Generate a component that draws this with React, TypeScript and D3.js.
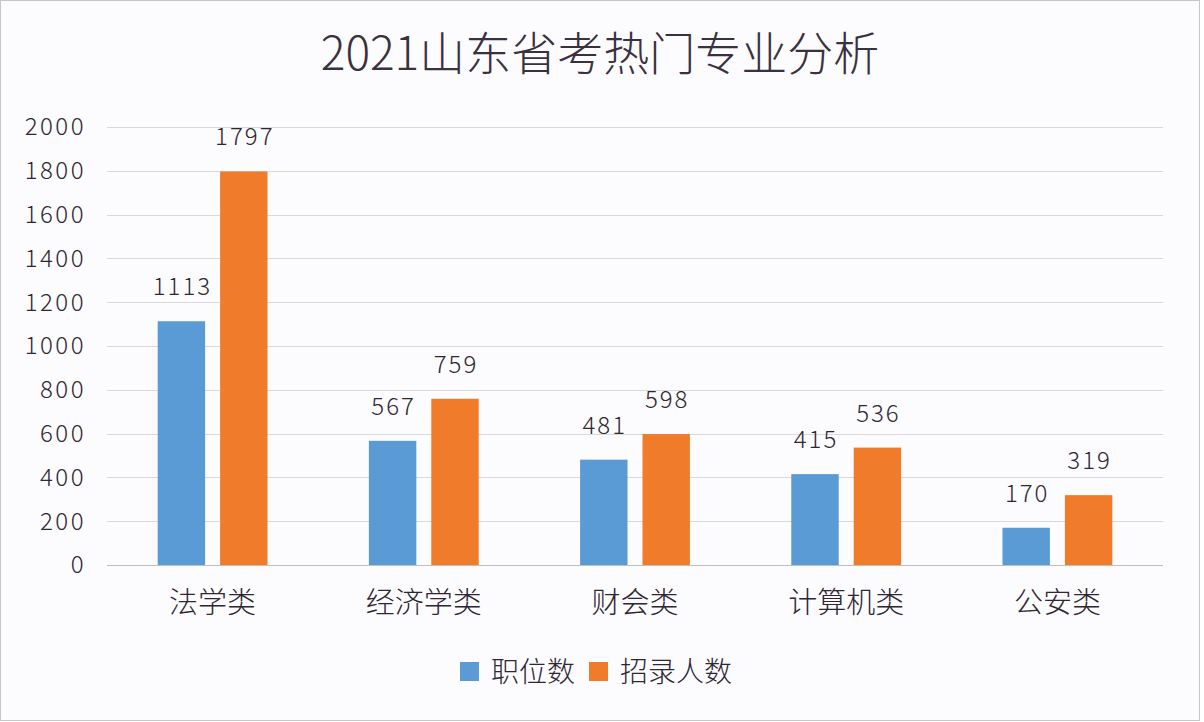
import { useEffect, useRef } from "react";
import * as d3 from "d3";

const categories = ["法学类", "经济学类", "财会类", "计算机类", "公安类"];
const positions = [1113, 567, 481, 415, 170];   // 职位数
const recruits  = [1797, 759, 598, 536, 319];   // 招录人数
const seriesNames = ["职位数", "招录人数"];
const seriesColors = ["#5b9bd5", "#f07c2b"];
const yTicks = [0, 200, 400, 600, 800, 1000, 1200, 1400, 1600, 1800, 2000];

const W = 1204;
const H = 722;
const M = { top: 127, right: 41, bottom: 157, left: 107 };
const FONT = "'Noto Sans CJK SC', 'Noto Sans', sans-serif";
const TEXT = "#2e2633";

export default function App() {
  const svgRef = useRef<SVGSVGElement>(null);

  useEffect(() => {
    const svg = d3.select(svgRef.current);
    svg.selectAll("*").remove();

    const iw = W - M.left - M.right;
    const ih = H - M.top - M.bottom;

    svg.append("rect")
      .attr("x", 0.5).attr("y", 0.5).attr("width", W - 5).attr("height", H - 2)
      .attr("fill", "#fcfbfd").attr("stroke", "#c6c6c6");

    const x = d3.scaleBand().domain(categories).range([0, iw]).paddingInner(0).paddingOuter(0);
    const x1 = d3.scaleBand().domain(seriesNames).range([x.bandwidth() * 0.24, x.bandwidth() * 0.76]).paddingInner(0.24);
    const y = d3.scaleLinear().domain([0, 2000]).range([ih, 0]);

    const g = svg.append("g").attr("transform", `translate(${M.left},${M.top})`);

    // ── grid ───────────────────────────────────────────────
    g.selectAll("line.grid")
      .data(yTicks)
      .join("line")
      .attr("class", "grid")
      .attr("x1", 0).attr("x2", iw)
      .attr("y1", d => Math.round(y(d)) + 0.5).attr("y2", d => Math.round(y(d)) + 0.5)
      .attr("stroke", d => d === 0 ? "#bfbfbf" : "#d9d9d9").attr("stroke-width", 1);

    g.selectAll("text.ytick")
      .data(yTicks)
      .join("text")
      .attr("class", "ytick")
      .attr("x", -21).attr("y", d => y(d)).attr("dy", "0.35em")
      .attr("text-anchor", "end")
      .attr("font-family", FONT).attr("font-size", 24).attr("font-weight", 300)
      .attr("letter-spacing", 2.5)
      .attr("fill", TEXT)
      .text(d => d);

    // ── bars ───────────────────────────────────────────────
    const data = categories.map((c, i) => ({ c, vals: [positions[i], recruits[i]] }));
    const grp = g.selectAll("g.cat").data(data).join("g")
      .attr("class", "cat")
      .attr("transform", d => `translate(${x(d.c)},0)`);

    seriesNames.forEach((s, si) => {
      grp.append("rect")
        .attr("x", x1(s)!).attr("width", x1.bandwidth())
        .attr("y", d => y(d.vals[si])).attr("height", d => ih - y(d.vals[si]))
        .attr("fill", seriesColors[si]);
      grp.append("text")
        .attr("x", x1(s)! + x1.bandwidth() / 2 + 1)
        .attr("y", d => y(d.vals[si]) - 26)
        .attr("text-anchor", "middle")
        .attr("font-family", FONT).attr("font-size", 24).attr("font-weight", 300)
        .attr("letter-spacing", 2)
        .attr("fill", TEXT)
        .text(d => d.vals[si]);
    });

    g.selectAll("text.xlab")
      .data(categories)
      .join("text")
      .attr("class", "xlab")
      .attr("x", d => x(d)! + x.bandwidth() / 2)
      .attr("y", ih + 48)
      .attr("text-anchor", "middle")
      .attr("font-family", FONT).attr("font-size", 29).attr("font-weight", 300)
      .attr("fill", TEXT)
      .text(d => d);

    // ── title ──────────────────────────────────────────────
    svg.append("text")
      .attr("x", 600).attr("y", 70)
      .attr("text-anchor", "middle")
      .attr("font-family", FONT).attr("font-size", 46).attr("font-weight", 300)
      .attr("fill", "#3a3140")
      .text("2021山东省考热门专业分析");

    // ── legend ─────────────────────────────────────────────
    const lg = svg.append("g").attr("transform", "translate(460,662)");
    const offsets = [0, 129];
    seriesNames.forEach((s, i) => {
      lg.append("rect").attr("x", offsets[i]).attr("y", 0).attr("width", 19).attr("height", 19)
        .attr("fill", seriesColors[i]);
      lg.append("text")
        .attr("x", offsets[i] + 31).attr("y", 10).attr("dy", "0.36em")
        .attr("font-family", FONT).attr("font-size", 28).attr("font-weight", 300)
        .attr("fill", TEXT)
        .text(s);
    });
  }, []);

  return (
    <svg ref={svgRef} width={W} height={H}
      style={{ display: "block", position: "absolute", left: 0, top: 0 }} />
  );
}
